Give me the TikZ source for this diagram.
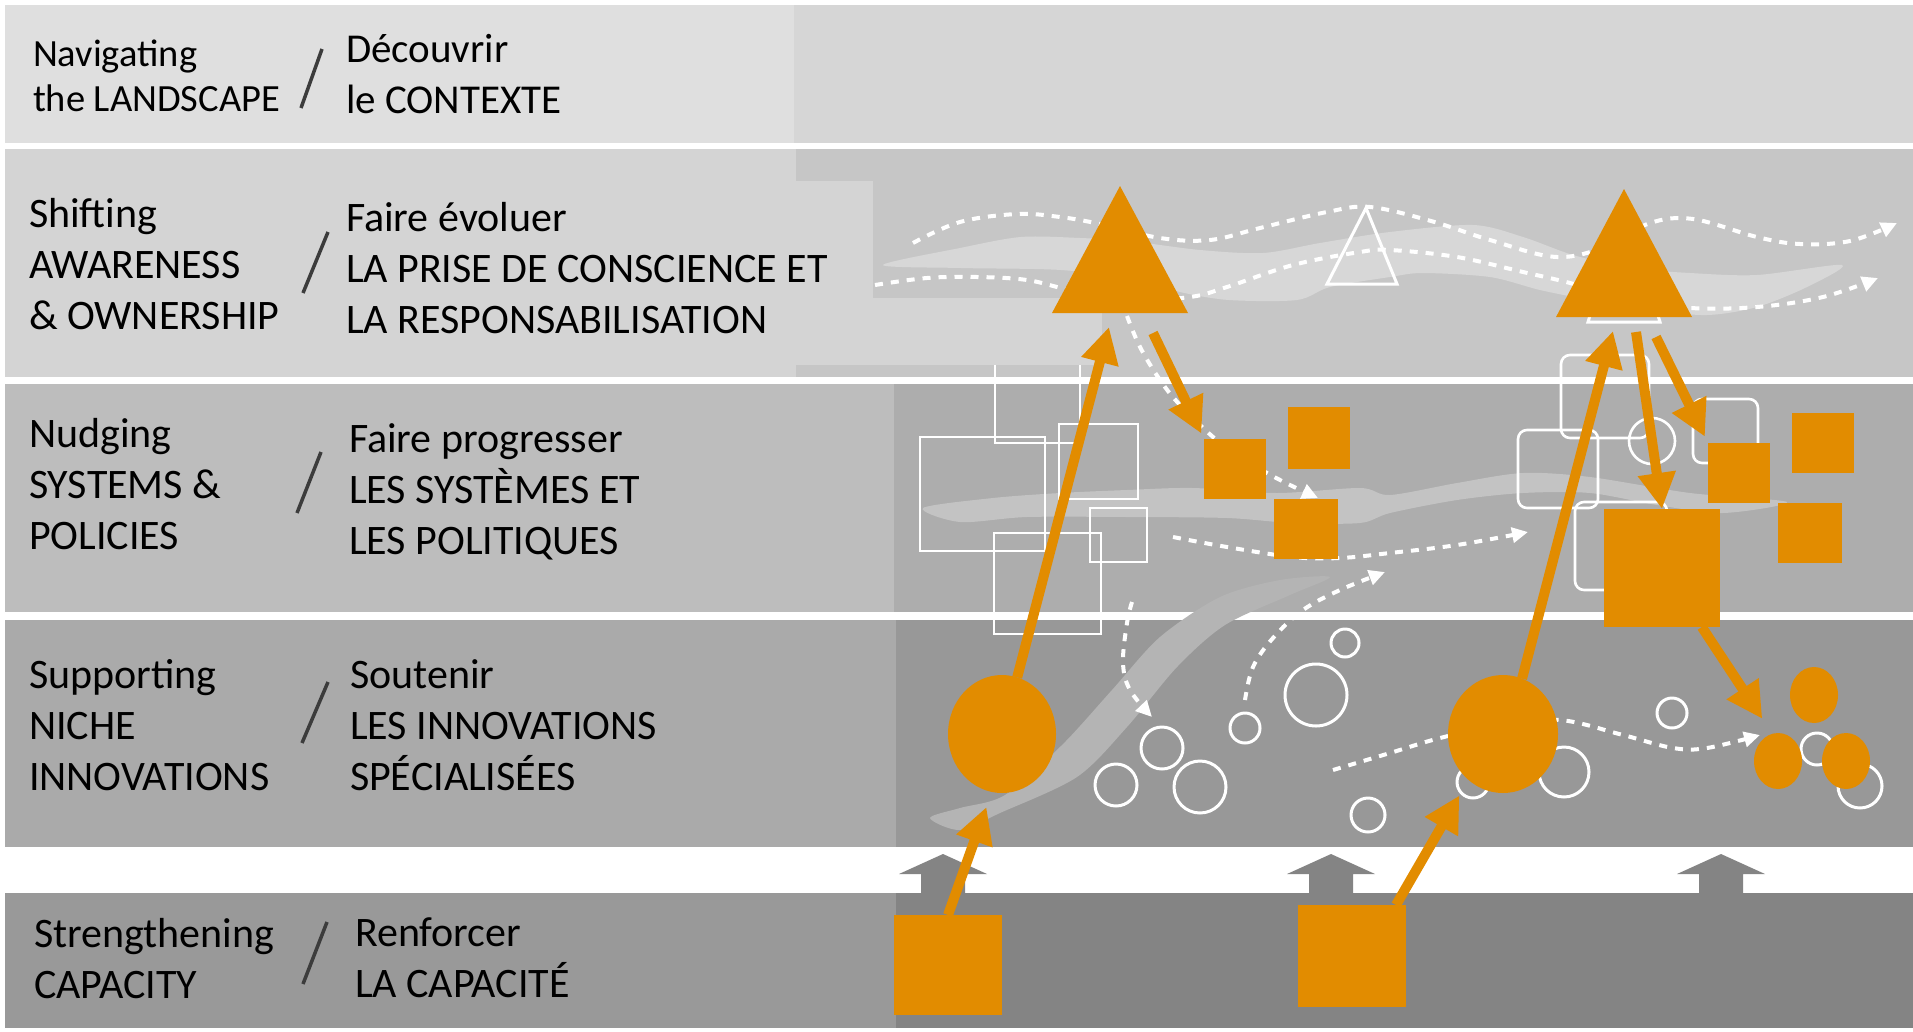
\documentclass[tikz,border=0pt]{standalone}
\usepackage{fontspec}
\setmainfont{Carlito}
\usetikzlibrary{arrows.meta,shapes.geometric}
\definecolor{orng}{RGB}{226,140,0}
\definecolor{bandAl}{RGB}{223,223,223}
\definecolor{bandAr}{RGB}{214,214,214}
\definecolor{bandBl}{RGB}{212,212,212}
\definecolor{bandBr}{RGB}{198,198,198}
\definecolor{bandCl}{RGB}{189,189,189}
\definecolor{bandCr}{RGB}{173,173,173}
\definecolor{bandDl}{RGB}{170,170,170}
\definecolor{bandDr}{RGB}{152,152,152}
\definecolor{bandEl}{RGB}{153,153,153}
\definecolor{bandEr}{RGB}{132,132,132}
\definecolor{ribB}{RGB}{215,215,215}
\definecolor{ribC}{RGB}{195,195,195}
\definecolor{ribD}{RGB}{180,180,180}
\definecolor{slashc}{RGB}{60,60,60}

\begin{document}
\begin{tikzpicture}[x=1pt,y=-1pt,every node/.style={inner sep=0pt,outer sep=0pt},
  lbl/.style={anchor=base west,align=left,text=black,font=\fontsize{42}{51}\selectfont},
  slash/.style={draw=slashc,line width=3.5pt},
  wline/.style={draw=white,line width=2.6pt},
  wround/.style={draw=white,line width=2.6pt,rounded corners=9pt},
  flow/.style={draw=white,line width=4pt,dash pattern=on 8pt off 8pt,-{Triangle[length=16pt,width=15pt]}},
  obox/.style={fill=orng,rectangle},
  oell/.style={fill=orng,ellipse},
  oarrow/.style={draw=orng,line width=10pt,-{Triangle[length=36pt,width=36pt]}}]
\useasboundingbox (0,0) rectangle (1913,1031);
\fill[white] (0,0) rectangle (1913,1031);
\fill[bandAr] (5,5) rectangle (1913,143);
\fill[bandAl] (5,5) rectangle (794,143);
\fill[bandBr] (5,149) rectangle (1913,377);
\fill[bandBl] (5,149) rectangle (796,377);
\fill[bandBl] (796,181) rectangle (873,365);
\fill[bandBl] (873,298) rectangle (1102,365);
\fill[bandCr] (5,384) rectangle (1913,612);
\fill[bandCl] (5,384) rectangle (894,612);
\fill[bandDr] (5,620) rectangle (1913,847);
\fill[bandDl] (5,620) rectangle (896,847);
\fill[bandEr] (5,893) rectangle (1913,1028);
\fill[bandEl] (5,893) rectangle (896,1028);
\fill[ribB] plot[smooth cycle,tension=0.5] coordinates {(883,265) (960,248) (1021,237) (1080,238) (1129,241) (1200,250) (1263,253) (1320,243) (1390,232) (1473,225) (1523,237) (1573,255) (1630,268) (1690,273) (1757,275) (1842,265) (1807,287) (1757,307) (1707,315) (1650,310) (1590,300) (1540,290) (1490,277) (1423,273) (1390,277) (1330,287) (1297,300) (1229,300) (1180,292) (1142,280) (1061,270) (961,268)};
\fill[ribC] plot[smooth cycle,tension=0.5] coordinates {(923,508) (993,498) (1060,493) (1127,490) (1193,488) (1277,493) (1360,488) (1390,495) (1457,483) (1523,473) (1590,477) (1690,493) (1787,502) (1723,513) (1657,505) (1590,493) (1523,493) (1457,500) (1390,513) (1360,523) (1293,523) (1227,518) (1127,517) (1027,517) (960,522)};
\fill[ribD] plot[smooth cycle,tension=0.5] coordinates {(930,818) (960,808) (1005,795) (1062,745) (1112,690) (1160,637) (1220,597) (1280,580) (1330,577) (1290,595) (1225,625) (1177,667) (1127,727) (1077,777) (1000,813) (960,830)};
\node[lbl,font=\fontsize{38.5}{45}\selectfont] (nav) at (33,111) {Navigating\\the LANDSCAPE};
\draw[slash] (322,49) -- (301,108);
\node[lbl,font=\fontsize{41}{51}\selectfont] (decouv) at (346,113) {Découvrir\\le CONTEXTE};
\node[lbl] (shift) at (29,329) {Shifting\\AWARENESS\\\& OWNERSHIP};
\draw[slash] (328,232) -- (303,293);
\node[lbl] (evol) at (346,333) {Faire évoluer\\LA PRISE DE CONSCIENCE ET\\LA RESPONSABILISATION};
\node[lbl] (nudge) at (29,549) {Nudging\\SYSTEMS \&\\POLICIES};
\draw[slash] (321,452) -- (297,513);
\node[lbl] (progr) at (349,554) {Faire progresser\\LES SYSTÈMES ET\\LES POLITIQUES};
\node[lbl] (support) at (29,790) {Supporting\\NICHE\\INNOVATIONS};
\draw[slash] (328,682) -- (302,743);
\node[lbl] (soutien) at (350,790) {Soutenir\\LES INNOVATIONS\\SPÉCIALISÉES};
\node[lbl] (strength) at (34,998) {Strengthening\\CAPACITY};
\draw[slash] (327,922) -- (303,984);
\node[lbl] (renfo) at (355,997) {Renforcer\\LA CAPACITÉ};
\draw[wline] (995,365) -- (995,443) -- (1080,443) -- (1080,365);
\draw[wline] (920,437) rectangle (1045,551);
\draw[wline] (1059,424) rectangle (1138,499);
\draw[wline] (1090,508) rectangle (1147,562);
\draw[wline] (994,533) rectangle (1101,634);
\draw[wround] (1561,355) rectangle (1649,438);
\draw[wround] (1518,430) rectangle (1598,508);
\draw[wround] (1693,399) rectangle (1758,463);
\draw[wround] (1575,502) rectangle (1667,590);
\draw[wline] (1652,441) circle[radius=23pt];
\draw[wline,line width=3pt] (1366,208) -- (1327,284) -- (1397,284) -- cycle;
\draw[wline,line width=3pt] (1624,205) -- (1588,322) -- (1660,322) -- cycle;
\foreach \cx/\cy/\r in {1162/748/21,1116/785/21,1200/787/26,1245/728/15,1316/695/31,1345/643/14,1368/815/17,1473/782/16,1564/772/25,1672/713/15,1817/749/16,1860/786/22}
  \draw[wline,line width=3pt] (\cx,\cy) circle[radius=\r pt];
\draw[flow] plot[smooth,tension=0.6] coordinates {(913,243) (960,222) (1017,214) (1060,217) (1100,224) (1160,238) (1210,240) (1260,228) (1327,212) (1370,207) (1431,221) (1490,240) (1557,257) (1610,245) (1650,223) (1693,219) (1757,237) (1800,244) (1850,241) (1897,223)};
\draw[flow] plot[smooth,tension=0.6] coordinates {(875,285) (927,278) (977,277) (1027,280) (1070,290) (1130,300) (1190,297) (1227,287) (1293,265) (1360,252) (1390,250) (1457,257) (1523,272) (1570,283) (1630,300) (1690,308) (1757,307) (1823,297) (1878,278)};
\draw[flow] plot[smooth,tension=0.6] coordinates {(1127,316) (1140,347) (1160,380) (1180,405) (1213,437) (1240,457) (1267,473) (1290,485) (1318,498)};
\draw[flow] plot[smooth,tension=0.6] coordinates {(1173,537) (1227,547) (1293,557) (1340,558) (1390,553) (1457,545) (1528,532)};
\draw[flow] plot[smooth,tension=0.6] coordinates {(1245,700) (1253,667) (1273,638) (1303,610) (1340,590) (1385,572)};
\draw[flow] plot[smooth,tension=0.6] coordinates {(1132,602) (1127,623) (1123,663) (1130,690) (1152,717)};
\draw[flow] plot[smooth,tension=0.6] coordinates {(1333,770) (1390,753) (1440,738) (1500,725) (1560,720) (1623,735) (1673,748) (1707,748) (1760,735)};
\foreach \cx in {943,1331,1721}
  \fill[bandEr] (\cx-44,874) -- (\cx,854) -- (\cx+44,874) -- (\cx+22,874) -- (\cx+22,894) -- (\cx-22,894) -- (\cx-22,874) -- cycle;
\fill[orng] (1120,186) -- (1052,313) -- (1188,313) -- cycle;
\fill[orng] (1624,189) -- (1556,317) -- (1692,317) -- cycle;
\coordinate (t1in) at (1109,327);
\coordinate (t1out) at (1153,333);
\coordinate (t2in) at (1613,331);
\coordinate (t2outa) at (1636,332);
\coordinate (t2outb) at (1656,337);
\node[obox,minimum width=62pt,minimum height=60pt] (sq1) at (1235,469) {};
\node[obox,minimum width=62pt,minimum height=62pt] (sq2) at (1319,438) {};
\node[obox,minimum width=64pt,minimum height=60pt] (sq3) at (1306,529) {};
\node[obox,minimum width=62pt,minimum height=60pt] (sq4) at (1739,473) {};
\node[obox,minimum width=62pt,minimum height=60pt] (sq5) at (1823,443) {};
\node[obox,minimum width=64pt,minimum height=60pt] (sq6) at (1810,533) {};
\node[obox,minimum width=116pt,minimum height=118pt] (sq7) at (1662,568) {};
\node[obox,minimum width=108pt,minimum height=100pt] (base1) at (948,965) {};
\node[obox,minimum width=108pt,minimum height=102pt] (base2) at (1352,956) {};
\node[oell,minimum width=108pt,minimum height=118pt] (circ1) at (1002,734) {};
\node[oell,minimum width=110pt,minimum height=118pt] (circ2) at (1503,734) {};
\node[oell,minimum width=48pt,minimum height=56pt] (circ3) at (1814,695) {};
\node[oell,minimum width=48pt,minimum height=56pt] (circ4) at (1778,761) {};
\node[oell,minimum width=48pt,minimum height=56pt] (circ5) at (1846,761) {};
\draw[oarrow,shorten >=16pt] (base1.north) -- (circ1.260);
\draw[oarrow] (circ1.75) -- (t1in);
\draw[oarrow,shorten >=6pt] (t1out) -- (sq1.north west);
\draw[oarrow,shorten >=18pt] ([xshift=-10pt]base2.north east) -- (circ2.233);
\draw[oarrow] (circ2.71) -- (t2in);
\draw[oarrow] (t2outa) -- (sq7.north);
\draw[oarrow,shorten >=7pt] (t2outb) -- (sq4.north west);
\draw[oarrow,shorten >=18pt] (sq7.-56) -- (circ4.102);
\end{tikzpicture}
\end{document}
